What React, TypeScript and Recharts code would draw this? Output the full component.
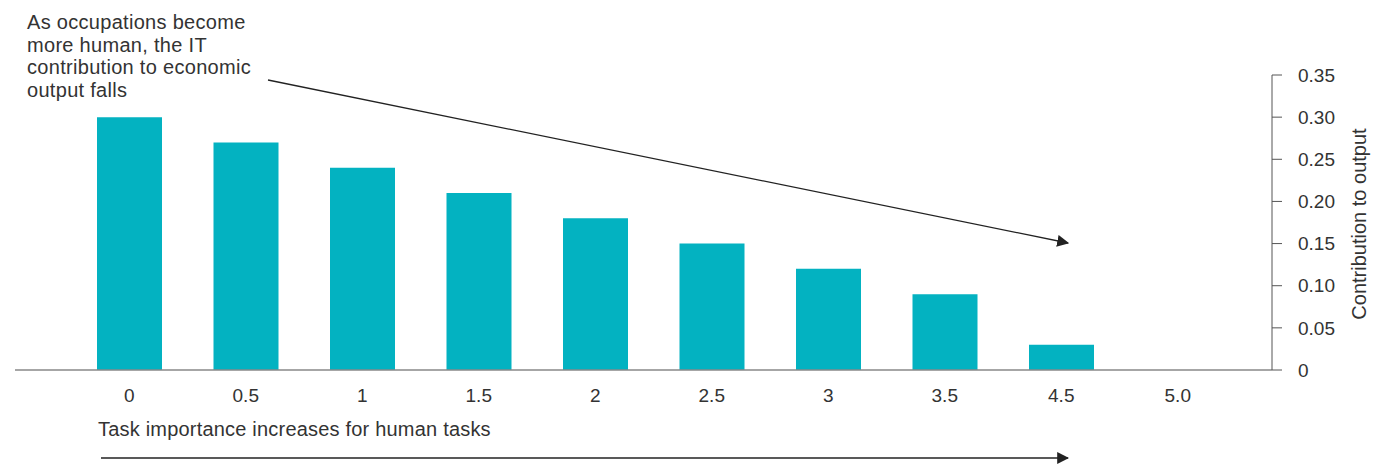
import { Bar, BarChart, XAxis, YAxis } from "recharts";

const categories = ["0", "0.5", "1", "1.5", "2", "2.5", "3", "3.5", "4.5", "5.0"];
const contribution = [0.3, 0.27, 0.24, 0.21, 0.18, 0.15, 0.12, 0.09, 0.03, 0];
const yTicks = [0, 0.05, 0.1, 0.15, 0.2, 0.25, 0.3, 0.35];
const noteLines = [
  "As occupations become",
  "more human, the IT",
  "contribution to economic",
  "output falls",
];

const data = categories.map((name, i) => ({ name, value: contribution[i] }));

const FONT = "'Liberation Sans', Arial, sans-serif";
const TEXT = "#333";

const fmtY = (v: number) => (v === 0 ? "0" : v.toFixed(2));

export default function App() {
  return (
    <div style={{ position: "absolute", left: 0, top: 0, width: 1381, height: 466, fontFamily: FONT }}>
      <BarChart
        width={1381}
        height={466}
        data={data}
        margin={{ top: 75, right: 49, bottom: 66, left: 15 }}
        barSize={65}
      >
        <XAxis
          dataKey="name"
          height={30}
          padding={{ left: 56, right: 36 }}
          tickLine={false}
          tickSize={0}
          tickMargin={19}
          axisLine={{ stroke: "#888", strokeWidth: 1.5 }}
          tick={{ fill: TEXT, fontSize: 19, fontFamily: FONT }}
          interval={0}
        />
        <YAxis
          orientation="right"
          width={60}
          domain={[0, 0.35]}
          ticks={yTicks}
          tickFormatter={fmtY}
          tickSize={10}
          tickMargin={16}
          axisLine={{ stroke: "#555" }}
          tickLine={{ stroke: "#555" }}
          tick={{ fill: TEXT, fontSize: 19, fontFamily: FONT }}
        />
        <Bar dataKey="value" fill="#03b2c1" isAnimationActive={false} />
      </BarChart>
      <svg
        width={1381}
        height={466}
        style={{ position: "absolute", left: 0, top: 0, pointerEvents: "none" }}
      >
        <defs>
          <marker id="head" viewBox="0 0 10 10" refX="9" refY="5" markerWidth="12" markerHeight="12" markerUnits="userSpaceOnUse" orient="auto">
            <path d="M0,0 L10,5 L0,10 z" fill="#222" />
          </marker>
        </defs>
        {noteLines.map((t, i) => (
          <text key={t} x={27} y={29 + i * 22.5} fontSize={20} letterSpacing={0.3} fill={TEXT} fontFamily={FONT}>
            {t}
          </text>
        ))}
        <line x1={268} y1={80} x2={1068} y2={243} stroke="#222" strokeWidth={1.3} markerEnd="url(#head)" />
        <text x={98} y={436} fontSize={20} letterSpacing={0.2} fill={TEXT} fontFamily={FONT}>
          Task importance increases for human tasks
        </text>
        <line x1={101} y1={458} x2={1068} y2={458} stroke="#222" strokeWidth={1.3} markerEnd="url(#head)" />
        <text
          x={1366}
          y={224}
          fontSize={20}
          fill={TEXT}
          fontFamily={FONT}
          textAnchor="middle"
          transform="rotate(-90 1366 224)"
        >
          Contribution to output
        </text>
      </svg>
    </div>
  );
}
